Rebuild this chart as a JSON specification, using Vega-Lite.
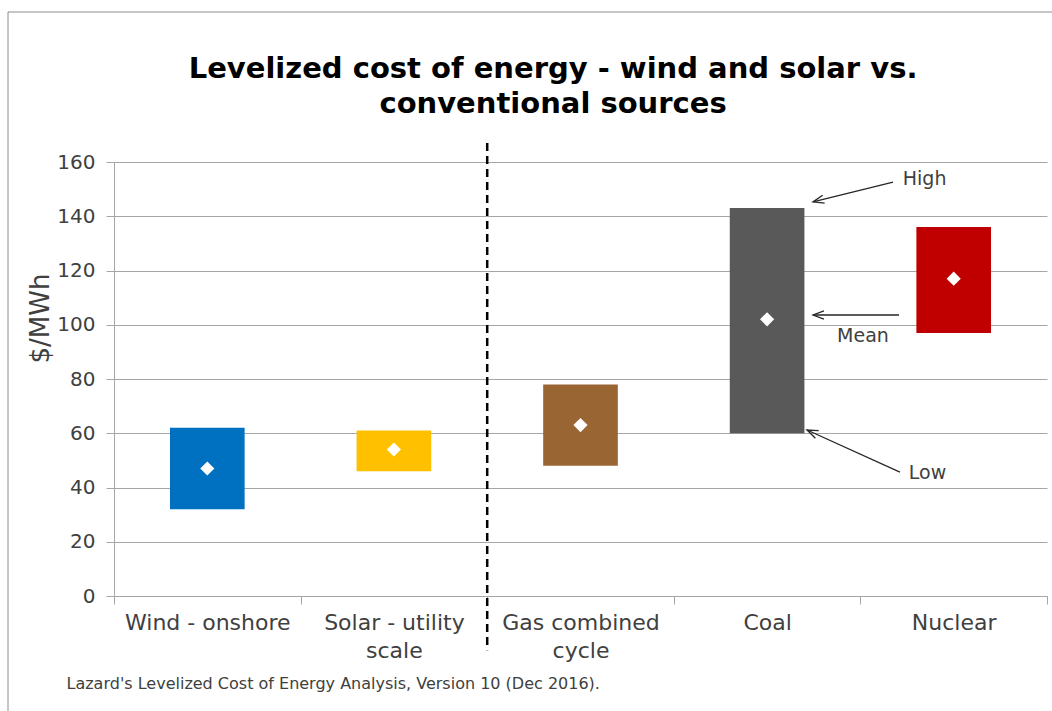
{
  "$schema": "https://vega.github.io/schema/vega-lite/v6.json",
  "width": 933,
  "height": 434,
  "autosize": "none",
  "padding": {"left": 114, "top": 162, "right": 5, "bottom": 115},
  "background": "white",
  "config": {
    "view": {"stroke": null},
    "font": "DejaVu Sans"
  },
  "datasets": {
    "costs": [
      {"source": "Wind - onshore", "low": 32, "high": 62, "mean": 47},
      {"source": "Solar - utility scale", "low": 46, "high": 61, "mean": 54},
      {"source": "Gas combined cycle", "low": 48, "high": 78, "mean": 63},
      {"source": "Coal", "low": 60, "high": 143, "mean": 102},
      {"source": "Nuclear", "low": 97, "high": 136, "mean": 117}
    ],
    "callouts": [
      {"label": "High", "tail_x": 4.175, "tail_y": 152.6, "tip_x": 3.746, "tip_y": 145.3, "text_x": 4.344, "text_y": 153.7},
      {"label": "Mean", "tail_x": 4.207, "tail_y": 103.6, "tip_x": 3.746, "tip_y": 103.6, "text_x": 4.014, "text_y": 95.9},
      {"label": "Low", "tail_x": 4.212, "tail_y": 45.7, "tip_x": 3.714, "tip_y": 61.2, "text_x": 4.36, "text_y": 45.3}
    ]
  },
  "resolve": {"scale": {"x": "independent"}},
  "layer": [
    {
      "data": {"name": "costs"},
      "layer": [
        {
          "mark": {"type": "bar", "width": {"band": 0.4}},
          "encoding": {
            "x": {
              "field": "source",
              "type": "nominal",
              "sort": null,
              "scale": {
                "domain": ["Wind - onshore", "Solar - utility scale", "Gas combined cycle", "Coal", "Nuclear"],
                "paddingInner": 0,
                "paddingOuter": 0
              },
              "axis": {
                "title": "Lazard's Levelized Cost of Energy Analysis, Version 10 (Dec 2016).",
                "titleFont": "DejaVu Sans",
                "titleFontSize": 16,
                "titleFontWeight": "normal",
                "titleColor": "#404040",
                "titleAlign": "left",
                "titleBaseline": "alphabetic",
                "titleAnchor": "start",
                "titleX": -48,
                "titleY": 92,
                "labelAngle": 0,
                "labelFont": "DejaVu Sans",
                "labelFontSize": 22,
                "labelColor": "#404040",
                "labelPadding": 8,
                "labelLineHeight": 28,
                "labelBaseline": "top",
                "labelExpr": "datum.value == 'Solar - utility scale' ? ['Solar - utility', 'scale'] : datum.value == 'Gas combined cycle' ? ['Gas combined', 'cycle'] : datum.value",
                "tickBand": "extent",
                "tickSize": 8,
                "tickColor": "#a6a6a6",
                "domainColor": "#a6a6a6",
                "grid": false
              }
            },
            "y": {
              "field": "low",
              "type": "quantitative",
              "scale": {"domain": [0, 160], "nice": false},
              "axis": {
                "values": [0, 20, 40, 60, 80, 100, 120, 140, 160],
                "title": "$/MWh",
                "titleFont": "DejaVu Sans",
                "titleFontSize": 26,
                "titleFontWeight": "normal",
                "titleColor": "#404040",
                "titleAngle": -90,
                "titleAlign": "center",
                "titleBaseline": "middle",
                "titleX": -74,
                "titleY": 156,
                "labelFont": "DejaVu Sans",
                "labelFontSize": 20,
                "labelColor": "#404040",
                "labelPadding": 11,
                "tickSize": 8,
                "tickColor": "#a6a6a6",
                "domainColor": "#a6a6a6",
                "grid": true,
                "gridColor": "#a6a6a6",
                "gridWidth": 1
              }
            },
            "y2": {"field": "high"},
            "color": {
              "field": "source",
              "type": "nominal",
              "scale": {
                "domain": ["Wind - onshore", "Solar - utility scale", "Gas combined cycle", "Coal", "Nuclear"],
                "range": ["#0070c0", "#ffc000", "#996633", "#595959", "#c00000"]
              },
              "legend": null
            }
          }
        },
        {
          "mark": {"type": "point", "shape": "diamond", "filled": true, "color": "white", "opacity": 1, "size": 200},
          "encoding": {
            "x": {
              "field": "source",
              "type": "nominal",
              "sort": null,
              "scale": {
                "domain": ["Wind - onshore", "Solar - utility scale", "Gas combined cycle", "Coal", "Nuclear"],
                "paddingInner": 0,
                "paddingOuter": 0
              }
            },
            "y": {"field": "mean", "type": "quantitative"}
          }
        }
      ]
    },
    {
      "layer": [
        {
          "data": {"values": [{}]},
          "mark": {"type": "rect", "fillOpacity": 0, "stroke": "#8c8c8c", "strokeWidth": 1},
          "encoding": {
            "x": {"datum": -0.568, "type": "quantitative", "scale": {"domain": [0, 5], "nice": false, "zero": false}, "axis": null},
            "x2": {"datum": 6},
            "y": {"datum": 215.3, "type": "quantitative"},
            "y2": {"datum": -50}
          }
        },
        {
          "data": {"values": [{}]},
          "mark": {
            "type": "text",
            "text": ["Levelized cost of energy - wind and solar vs.", "conventional sources"],
            "font": "DejaVu Sans",
            "fontSize": 29,
            "fontWeight": "bold",
            "color": "#000000",
            "align": "center",
            "baseline": "alphabetic",
            "lineHeight": 35
          },
          "encoding": {
            "x": {"datum": 2.353, "type": "quantitative", "scale": {"domain": [0, 5], "nice": false, "zero": false}, "axis": null},
            "y": {"datum": 191, "type": "quantitative"}
          }
        },
        {
          "data": {"values": [{}]},
          "mark": {"type": "rule", "color": "#000000", "strokeWidth": 2.5, "strokeDash": [8, 5]},
          "encoding": {
            "x": {"datum": 2, "type": "quantitative", "scale": {"domain": [0, 5], "nice": false, "zero": false}, "axis": null},
            "y": {"datum": 167, "type": "quantitative"},
            "y2": {"datum": -20}
          }
        },
        {
          "data": {"name": "callouts"},
          "mark": {"type": "rule", "color": "#262626", "strokeWidth": 1.3},
          "encoding": {
            "x": {"field": "tail_x", "type": "quantitative", "scale": {"domain": [0, 5], "nice": false, "zero": false}, "axis": null},
            "y": {"field": "tail_y", "type": "quantitative"},
            "x2": {"field": "tip_x"},
            "y2": {"field": "tip_y"}
          }
        },
        {
          "data": {"name": "callouts"},
          "transform": [{"filter": "datum.label == 'High'"}],
          "mark": {"type": "point", "shape": "M2,-0.75L0,0L2,0.75", "filled": false, "stroke": "#262626", "strokeWidth": 1.3, "opacity": 1, "size": 120, "angle": -14},
          "encoding": {
            "x": {"field": "tip_x", "type": "quantitative", "scale": {"domain": [0, 5], "nice": false, "zero": false}, "axis": null},
            "y": {"field": "tip_y", "type": "quantitative"}
          }
        },
        {
          "data": {"name": "callouts"},
          "transform": [{"filter": "datum.label == 'Mean'"}],
          "mark": {"type": "point", "shape": "M2,-0.75L0,0L2,0.75", "filled": false, "stroke": "#262626", "strokeWidth": 1.3, "opacity": 1, "size": 120, "angle": 0},
          "encoding": {
            "x": {"field": "tip_x", "type": "quantitative", "scale": {"domain": [0, 5], "nice": false, "zero": false}, "axis": null},
            "y": {"field": "tip_y", "type": "quantitative"}
          }
        },
        {
          "data": {"name": "callouts"},
          "transform": [{"filter": "datum.label == 'Low'"}],
          "mark": {"type": "point", "shape": "M2,-0.75L0,0L2,0.75", "filled": false, "stroke": "#262626", "strokeWidth": 1.3, "opacity": 1, "size": 120, "angle": 24},
          "encoding": {
            "x": {"field": "tip_x", "type": "quantitative", "scale": {"domain": [0, 5], "nice": false, "zero": false}, "axis": null},
            "y": {"field": "tip_y", "type": "quantitative"}
          }
        },
        {
          "data": {"name": "callouts"},
          "mark": {"type": "text", "font": "DejaVu Sans", "fontSize": 19, "color": "#404040", "align": "center", "baseline": "middle"},
          "encoding": {
            "x": {"field": "text_x", "type": "quantitative", "scale": {"domain": [0, 5], "nice": false, "zero": false}, "axis": null},
            "y": {"field": "text_y", "type": "quantitative"},
            "text": {"field": "label"}
          }
        }
      ]
    }
  ]
}
